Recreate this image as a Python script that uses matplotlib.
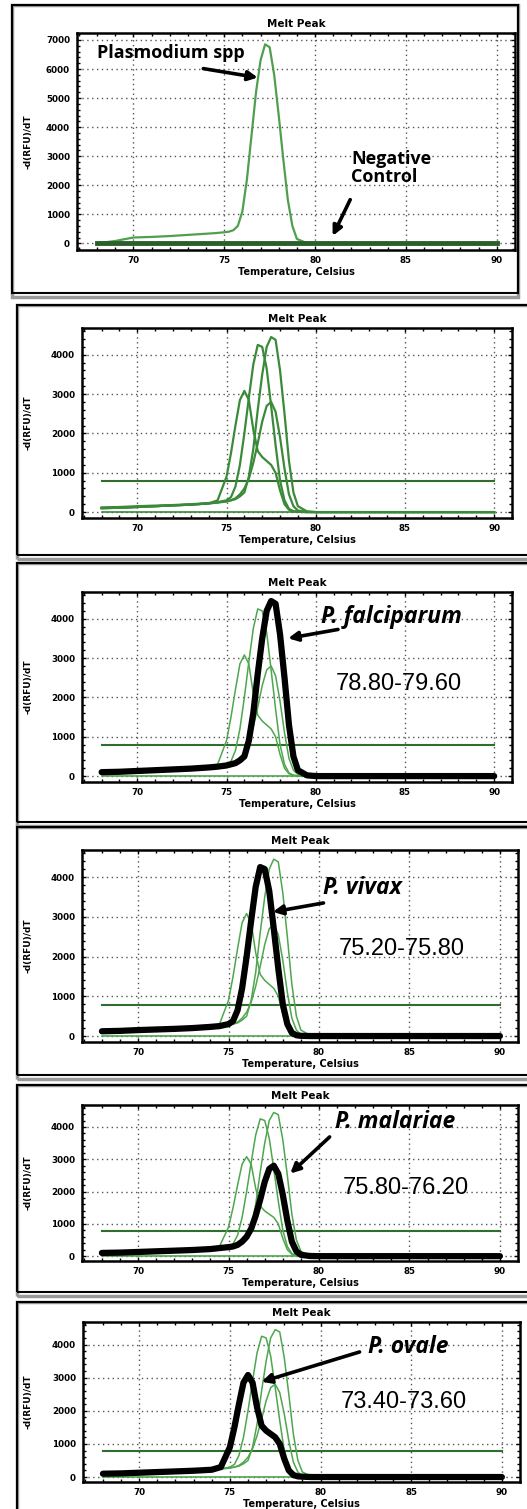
import numpy as np
import matplotlib.pyplot as plt
from matplotlib.patches import Rectangle
from matplotlib.ticker import MultipleLocator

# temperature points (Celsius) shared by all the melt curves
temp = [68, 69, 70, 71, 72, 73, 74, 74.5, 75, 75.25, 75.5, 75.75, 76, 76.25, 76.5,
        76.75, 77, 77.25, 77.5, 77.75, 78, 78.25, 78.5, 78.75, 79, 79.5, 80, 82, 85, 88, 90]

# -d(RFU)/dT values
spp = [0, 80, 200, 220, 250, 290, 330, 350, 380, 400, 450, 600, 1100, 2200, 3700,
       5200, 6300, 6850, 6750, 5800, 4400, 2900, 1500, 600, 150, 20, 0, 0, 0, 0, 0]
ovale = [100, 110, 130, 150, 170, 190, 220, 300, 900, 1500, 2200, 2850, 3080, 2850, 2100,
         1550, 1400, 1300, 1200, 1000, 550, 200, 60, 20, 10, 0, 0, 0, 0, 0, 0]
vivax = [120, 130, 150, 165, 180, 200, 230, 250, 300, 380, 650, 1200, 2000, 2900, 3750,
         4250, 4200, 3650, 2700, 1700, 800, 300, 80, 20, 5, 0, 0, 0, 0, 0, 0]
falciparum = [100, 110, 130, 150, 170, 190, 220, 240, 270, 300, 330, 400, 500, 900, 1600,
              2600, 3500, 4200, 4450, 4380, 3600, 2500, 1300, 500, 150, 20, 0, 0, 0, 0, 0]
malariae = [100, 110, 130, 150, 170, 190, 220, 250, 280, 300, 350, 450, 600, 850, 1250,
            1750, 2300, 2700, 2800, 2550, 1900, 1100, 450, 150, 40, 5, 0, 0, 0, 0, 0]
baseline_x = [68, 90]
negative = [0, 0]
threshold = [780, 780]

species = {'falciparum': falciparum, 'vivax': vivax, 'malariae': malariae, 'ovale': ovale}
# label, range text, label pos, arrow tail, arrow head, range pos
notes = {
    'falciparum': ('P. falciparum', '78.80-79.60', (80.3, 4050), (81.4, 3740), (78.3, 3490), (81.1, 2330)),
    'vivax': ('P. vivax', '75.20-75.80', (80.2, 3720), (80.4, 3360), (77.3, 3110), (81.1, 2190)),
    'malariae': ('P. malariae', '75.80-76.20', (80.9, 4150), (80.7, 3750), (78.3, 2500), (81.3, 2100)),
    'ovale': ('P. ovale', '73.40-73.60', (82.6, 3940), (82.3, 3800), (76.6, 2850), (81.1, 2250)),
}

W, H = 527, 1509
fig = plt.figure(figsize=(W / 100, H / 100), dpi=100)

# panel layout in pixels: axes (L, R, T, B) and frame (x0, x1, y0, y1)
panels = [
    (None, (77, 515, 33, 250), (12, 518, 5, 293)),
    ('none', (82, 512, 328, 518), (17, 530, 305, 555)),
    ('falciparum', (82, 512, 592, 782), (17, 530, 563, 822)),
    ('vivax', (82, 518, 850, 1042), (17, 530, 827, 1075)),
    ('malariae', (82, 518, 1105, 1261), (17, 530, 1085, 1292)),
    ('ovale', (83, 520, 1322, 1482), (17, 530, 1302, 1512)),
]

tick_font = dict(family='DejaVu Sans', weight='bold', size=6.3)
arrow = dict(arrowstyle='-|>', lw=2.6, color='black', mutation_scale=14)

for hl, (L, R, T, B), (x0, x1, y0, y1) in panels:
    # frame around each panel
    fig.patches.append(Rectangle((x0 / W, 1 - (y1 + 4) / H), (x1 - x0) / W, (y1 - y0 + 4) / H,
                                 transform=fig.transFigure, fill=False, ec='#999999', lw=2.5))
    fig.patches.append(Rectangle((x0 / W, 1 - y1 / H), (x1 - x0) / W, (y1 - y0) / H,
                                 transform=fig.transFigure, fill=False, ec='black', lw=1.5))

    ax = fig.add_axes([L / W, 1 - B / H, (R - L) / W, (B - T) / H])
    ax.set_xlim(66.9, 91.0)
    if hl is None:
        ax.set_ylim(-230, 7240)
        ax.plot(temp, spp, color='#4f9f4f', lw=1.6, zorder=3)
        ax.plot(baseline_x, negative, color='#2a5e2a', lw=3.5, zorder=4)
        ax.yaxis.set_major_locator(MultipleLocator(1000))
        ax.annotate('', xy=(77.0, 5690), xytext=(73.7, 6030), arrowprops=arrow)
        ax.text(68.0, 6560, 'Plasmodium spp', family='Open Sans', weight='bold', fontsize=13,
                va='center', ha='left')
        ax.text(82.0, 2600, 'Negative\nControl', family='Open Sans', weight='bold', fontsize=13,
                va='center', ha='left', linespacing=1.0)
        ax.annotate('', xy=(80.9, 170), xytext=(82.0, 1590), arrowprops=arrow)
    else:
        ax.set_ylim(-150, 4680)
        ax.yaxis.set_major_locator(MultipleLocator(1000))
        g_lw = 1.6 if hl == 'none' else 1.1
        g_col = '#3a8a3a' if hl == 'none' else '#4ea64e'
        ax.plot(baseline_x, negative, color=g_col, lw=1.2, zorder=3)
        ax.plot(baseline_x, threshold, color='#2f6e2f', lw=1.5, zorder=3)
        for name, vals in species.items():
            ax.plot(temp, vals, color=g_col, lw=g_lw, zorder=3)
        if hl in species:
            ax.plot(temp, species[hl], color='black', lw=4.5, zorder=5,
                    solid_joinstyle='round', solid_capstyle='round')
            label, rng, lpos, tail, head, rpos = notes[hl]
            ax.text(lpos[0], lpos[1], label, family='Open Sans', weight='bold', style='italic',
                    fontsize=16.5, va='center', ha='left', zorder=6)
            ax.annotate('', xy=head, xytext=tail, zorder=6, arrowprops=arrow)
            ax.text(rpos[0], rpos[1], rng, family='Liberation Sans', fontsize=17,
                    va='center', ha='left', zorder=6)

    ax.xaxis.set_major_locator(MultipleLocator(5))
    ax.xaxis.set_minor_locator(MultipleLocator(1))
    ax.yaxis.set_minor_locator(MultipleLocator(200))
    ax.grid(True, which='major', color='#555555', lw=1.0, linestyle=(0, (1, 2.5)))
    ax.tick_params(which='both', direction='in', top=True, right=True, length=3, width=1)
    ax.tick_params(which='minor', length=2)
    ax.tick_params(axis='x', pad=4)
    ax.tick_params(axis='y', pad=5)
    for lab in ax.get_xticklabels() + ax.get_yticklabels():
        lab.set_fontproperties(tick_font)
    for s in ax.spines.values():
        s.set_linewidth(1.8)
    ax.set_title('Melt Peak', fontdict=dict(tick_font, size=7.5), pad=4)
    ax.set_xlabel('Temperature, Celsius', fontdict=dict(tick_font, size=7), labelpad=1.5)
    ax.set_ylabel('-d(RFU)/dT', fontdict=dict(tick_font, size=6.5))
    ax.yaxis.set_label_coords((33 - L) / (R - L), 0.5)

fig.savefig('out.png', dpi=100)
